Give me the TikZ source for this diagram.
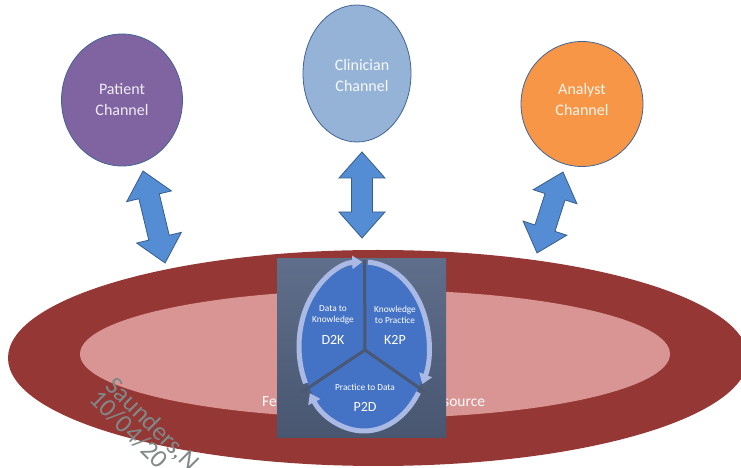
\documentclass[tikz,border=0pt]{standalone}
\usepackage{fontspec}
\setmainfont{Carlito}
\usetikzlibrary{shapes.geometric,arrows.meta,calc}
\definecolor{outerred}{RGB}{149,55,53}
\definecolor{innerpink}{RGB}{217,149,148}
\definecolor{patfill}{RGB}{128,100,162}
\definecolor{clinfill}{RGB}{149,179,215}
\definecolor{anafill}{RGB}{247,150,70}
\definecolor{circline}{RGB}{66,100,148}
\definecolor{arrfill}{RGB}{84,141,212}
\definecolor{arrline}{RGB}{56,93,138}
\definecolor{boxtop}{RGB}{95,110,138}
\definecolor{boxbot}{RGB}{72,86,112}
\definecolor{wedge}{RGB}{68,114,196}
\definecolor{ringc}{RGB}{170,186,228}
\definecolor{wmgray}{RGB}{128,136,136}
\tikzset{
  chan/.style={ellipse, draw=circline, line width=0.8pt, inner sep=0pt,
    align=center, font=\fontsize{16}{21}\selectfont},
  arrowfill/.style={fill=arrfill, draw=arrline, line width=0.8pt, line join=miter},
  pics/dblarrow/.style={code={
    \draw[arrowfill] (0,0) -- (26,23) -- (26,10.5) -- (#1-26,10.5) -- (#1-26,23)
      -- (#1,0) -- (#1-26,-23) -- (#1-26,-10.5) -- (26,-10.5) -- (26,-23) -- cycle;}},
  smalltxt/.style={text=white, align=center, font=\fontsize{9.3}{11}\selectfont},
  bigtxt/.style={text=white, font=\fontsize{14}{16}\selectfont},
  ringarrow/.style={draw=ringc, line width=5pt, -{Triangle[width=13pt,length=10pt]}},
  divider/.style={draw=boxbot!90!boxtop, line width=3pt},
  wm/.style={text=wmgray, font=\fontsize{26}{26}\selectfont, inner sep=0pt, anchor=base west, rotate=-45},
  restxt/.style={text=white!96!innerpink, font=\fontsize{15.5}{18}\selectfont, inner sep=0pt, anchor=base west}
}
\begin{document}
\begin{tikzpicture}[x=1pt,y=1pt]
\useasboundingbox (0,0) rectangle (741,468);
\clip (0,0) rectangle (741,468);
\fill[white] (0,0) rectangle (741,468);
% resource ellipses
\node[ellipse, fill=outerred, inner sep=0pt, minimum width=740pt, minimum height=216pt] (outer) at (378,110) {};
\node[ellipse, fill=innerpink, inner sep=0pt, minimum width=590pt, minimum height=128pt] (inner) at (375,114) {};
\node[restxt] (fe) at (262,61.5) {Fe};
\node[restxt] (src) at (443,61.5) {source};
% central cycle picture
\node[rectangle, inner sep=0pt, minimum width=169pt, minimum height=179pt,
  top color=boxtop, bottom color=boxbot] (box) at (361.5,119.5) {};
\coordinate (rc) at (364,121.5);
\coordinate (hub) at (365,118);
\fill[wedge] (rc) ellipse [x radius=63pt, y radius=83pt];
\coordinate (dtop) at (364.5,208);
\coordinate (dleft) at (302,76);
\coordinate (dright) at (425,76);
\draw[divider] (hub) -- (dtop);
\draw[divider] (hub) -- (dleft);
\draw[divider] (hub) -- (dright);
\draw[ringarrow] ([shift={(205.8:65pt and 84.5pt)}]rc) arc[start angle=205.8, end angle=91.5, x radius=65pt, y radius=84.5pt];
\draw[ringarrow] ([shift={(86.5:65pt and 84.5pt)}]rc) arc[start angle=86.5, end angle=-26.5, x radius=65pt, y radius=84.5pt];
\draw[ringarrow] ([shift={(-33:65pt and 84.5pt)}]rc) arc[start angle=-33, end angle=-146.5, x radius=65pt, y radius=84.5pt];
\node[smalltxt] (d2kt) at (333,153) {Data to\\Knowledge};
\node[bigtxt] (d2k) at (333,128) {D2K};
\node[smalltxt] (k2pt) at (395,153) {Knowledge\\to Practice};
\node[bigtxt] (k2p) at (395,128) {K2P};
\node[smalltxt] (p2dt) at (365,81) {Practice to Data};
\node[bigtxt] (p2d) at (365,61) {P2D};
% channels
\node[chan, fill=patfill, text=white!88!patfill, minimum width=121pt, minimum height=132pt] (pat) at (122,368) {};
\node[text=white!88!patfill, align=center, font=\fontsize{16}{21}\selectfont] (patt) at (122,368) {Patient\\Channel};
\node[chan, fill=clinfill, minimum width=108pt, minimum height=137pt] (clin) at (357,394.5) {};
\node[text=white!92!clinfill, align=center, font=\fontsize{16}{21}\selectfont] (clint) at (362,392) {Clinician\\Channel};
\node[chan, fill=anafill, minimum width=122pt, minimum height=125pt] (ana) at (582,364) {};
\node[text=white!90!anafill, align=center, font=\fontsize{16}{21}\selectfont] (anat) at (582,368) {Analyst\\Channel};
% double arrows
\coordinate (pa) at (143,297);
\coordinate (ca) at (362,316);
\coordinate (aa) at (563,296);
\path (pa) pic[rotate=-76.5] {dblarrow=94.6};
\path (ca) pic[rotate=-90] {dblarrow=86};
\path (aa) pic[rotate=-107.8] {dblarrow=85};
% watermark
\node[wm] (wm1) at (104,81) {Saunders,N};
\node[wm] (wm2) at (88,68) {10/04/20};
\end{tikzpicture}
\end{document}
